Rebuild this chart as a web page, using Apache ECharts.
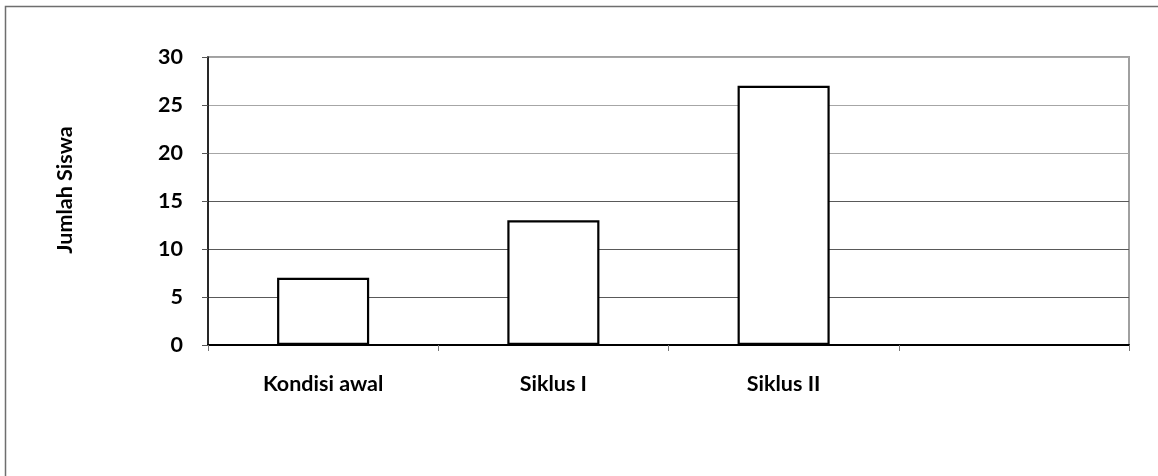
<!DOCTYPE html>
<html>
<head>
<meta charset="utf-8">
<script src="https://cdn.jsdelivr.net/npm/echarts@6/dist/echarts.min.js"></script>
<style>
  html, body { margin: 0; padding: 0; background: #fff; }
  #chart { width: 1158px; height: 476px; }
</style>
</head>
<body>
<div id="chart"></div>
<script>
const categories = ['Kondisi awal', 'Siklus I', 'Siklus II', ''];
const jumlahSiswa = [7, 13, 27, null];
const yTicks = [0, 5, 10, 15, 20, 25, 30];
const yAxisTitle = 'Jumlah Siswa';

const FONT = 'Lato';
const FS = 21.5;
const chart = echarts.init(document.getElementById('chart'), null, { renderer: 'canvas' });
chart.setOption({
  backgroundColor: '#ffffff',
  animation: false,
  graphic: [{
    type: 'rect',
    shape: { x: 5.5, y: 6.5, width: 1300, height: 600 },
    style: { fill: 'none', stroke: '#6e6e6e', lineWidth: 1.5 },
    silent: true, z: -10
  }],
  grid: {
    left: 208, right: 29, top: 57, bottom: 131,
    show: true, borderColor: '#a0a0a0', borderWidth: 2, backgroundColor: 'transparent'
  },
  xAxis: {
    type: 'category',
    data: categories,
    boundaryGap: true,
    axisLine: { show: true, lineStyle: { color: '#000', width: 2 } },
    axisTick: { show: true, length: 6, lineStyle: { color: '#777', width: 1 } },
    axisLabel: { margin: 28, color: '#000', fontFamily: FONT, fontWeight: 'bold', fontSize: FS }
  },
  yAxis: {
    type: 'value',
    min: yTicks[0], max: yTicks[yTicks.length - 1], interval: 5,
    name: yAxisTitle,
    nameLocation: 'middle',
    nameGap: 132,
    nameRotate: 90,
    nameTextStyle: { color: '#000', fontFamily: FONT, fontWeight: 'bold', fontSize: FS, padding: [0, 0, 0, 22] },
    axisLine: { show: true, lineStyle: { color: '#000', width: 1.5 } },
    axisTick: { show: true, length: 6, lineStyle: { color: '#555', width: 1 } },
    axisLabel: { margin: 25, color: '#000', fontFamily: FONT, fontWeight: 'bold', fontSize: FS },
    splitLine: { show: true, lineStyle: { color: ['#000', '#595959', '#595959', '#595959', '#a6a6a6', '#a6a6a6', '#a6a6a6'], width: 1.2 } }
  },
  series: [{
    type: 'bar',
    data: jumlahSiswa,
    barWidth: '40%',
    itemStyle: { color: '#ffffff', borderColor: '#000', borderWidth: 2.2 },
    z: 5
  }]
});
</script>
</body>
</html>
